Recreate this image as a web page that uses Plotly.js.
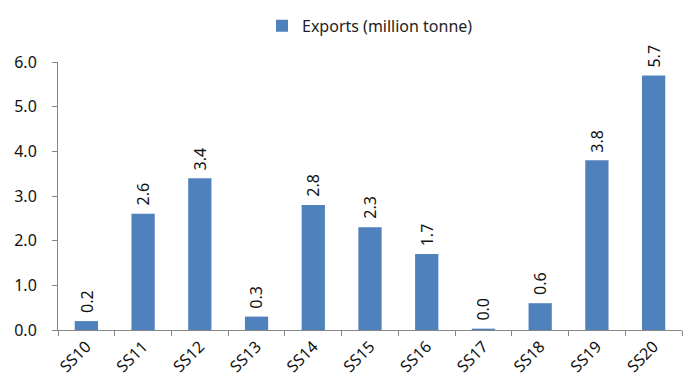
<!DOCTYPE html>
<html><head><meta charset="utf-8">
<script src="https://cdn.plot.ly/plotly-3.0.1.min.js"></script>
<style>html,body{margin:0;padding:0;background:#fff;}#c{width:691px;height:379px;}</style>
</head><body><div id="c"></div>
<script>
var categories = ["SS10","SS11","SS12","SS13","SS14","SS15","SS16","SS17","SS18","SS19","SS20"];
var exports = [0.2, 2.6, 3.4, 0.3, 2.8, 2.3, 1.7, 0.03, 0.6, 3.8, 5.7];
var yTicks = [0,1,2,3,4,5,6];
var yTickLabels = ["0.0","1.0","2.0","3.0","4.0","5.0","6.0"];

var FONT = "Noto Sans, Open Sans, sans-serif";
var trace = {
  type: "bar",
  x: categories,
  y: exports,
  name: "Exports (million tonne)",
  marker: {color: "#4F81BD"},
  hoverinfo: "none"
};
var annotations = categories.map(function(c, i){
  return {
    x: c, y: exports[i], xref: "x", yref: "y",
    text: exports[i].toFixed(1),
    textangle: -90,
    showarrow: false,
    xanchor: "center", yanchor: "bottom",
    yshift: 6,
    font: {family: FONT, size: 16, color: "#111"}
  };
});
var layout = {
  width: 691, height: 379,
  margin: {l: 58, r: 9, t: 57, b: 49},
  paper_bgcolor: "#fff", plot_bgcolor: "#fff",
  bargap: 0.59,
  showlegend: true,
  legend: {orientation: "h", x: 0.5, xanchor: "center", y: 1.135, yanchor: "middle",
           font: {family: FONT, size: 16, color: "#222"}},
  font: {family: FONT, size: 16, color: "#222"},
  annotations: annotations,
  xaxis: {
    type: "category", automargin: false,
    showline: true, linecolor: "#868686", linewidth: 1,
    ticks: "outside", tickson: "boundaries", ticklen: 5, tickcolor: "#868686",
    tickangle: -45, tickfont: {family: FONT, size: 16, color: "#111"},
    showgrid: false, zeroline: false
  },
  yaxis: {
    range: [0, 6], automargin: false,
    tickvals: yTicks, ticktext: yTickLabels,
    showline: true, linecolor: "#868686", linewidth: 1,
    ticks: "outside", ticklen: 5, tickcolor: "#868686", ticklabelstandoff: 12,
    tickfont: {family: FONT, size: 16, color: "#111"},
    showgrid: false, zeroline: false
  }
};
Plotly.newPlot("c", [trace], layout, {displayModeBar: false, staticPlot: true});
</script></body></html>
